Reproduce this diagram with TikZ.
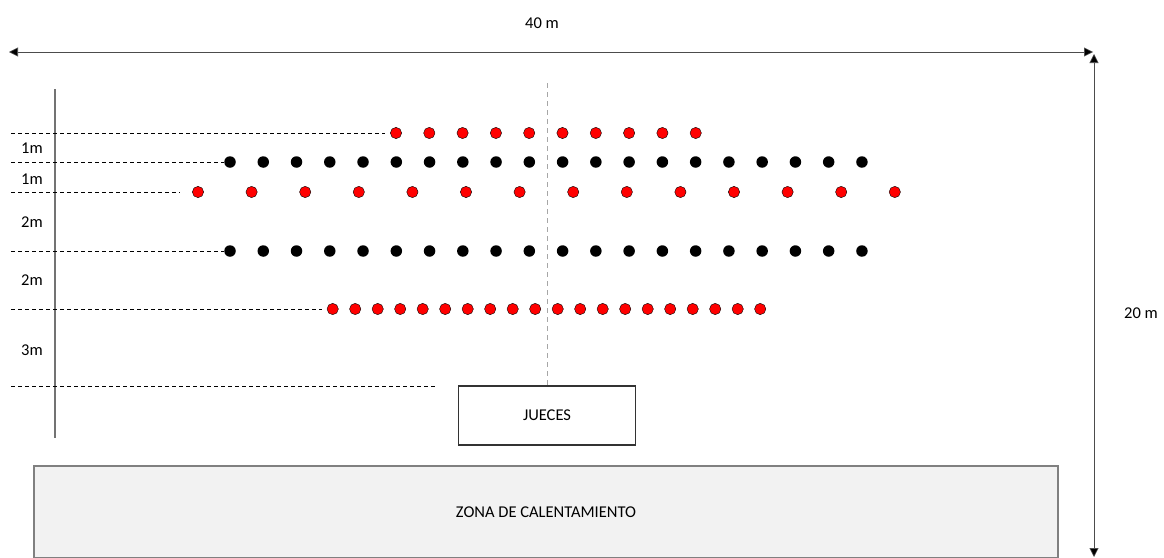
\documentclass[tikz,border=0pt]{standalone}
\usepackage{fontspec}
\setmainfont{Carlito}
\usepackage{tikz}
\usetikzlibrary{arrows.meta}

\begin{document}
\begin{tikzpicture}[x=1pt, y=-1pt, semithick,
    font=\fontsize{16.5}{19}\selectfont,
    reddot/.style={draw, circle, fill=red, minimum size=11.3pt, inner sep=0pt, thin},
    blackdot/.style={circle, fill=black, minimum size=11.5pt, inner sep=0pt},
    guide/.style={thin, dash pattern=on 4pt off 3pt},
    dimarrow/.style={black!70, {Triangle[length=9pt,width=9pt,fill=black]}-{Triangle[length=9pt,width=9pt,fill=black]}}]
  \useasboundingbox (0,0) rectangle (1164,557);
  % medidas
  \coordinate (wl) at (9,52);
  \coordinate (wr) at (1093,52);
  \coordinate (ht) at (1094,54);
  \coordinate (hb) at (1094,557);
  \path [dimarrow] (wl) edge (wr);
  \path [dimarrow] (ht) edge (hb);
  \node (ancho) at (542,23) {40 m};
  \node (alto) at (1141,313) {20 m};
  % eje izquierdo
  \coordinate (ea) at (55,89);
  \coordinate (eb) at (55,438);
  \draw [black!55, line width=1.5pt] (ea) -- (eb);
  % filas
  \foreach \i in {0,...,9}  \node [reddot]   (ra\i) at (396+33.3*\i, 133) {};
  \foreach \i in {0,...,19} \node [blackdot] (na\i) at (230+33.26*\i, 162) {};
  \foreach \i in {0,...,13} \node [reddot]   (rb\i) at (198+53.6*\i, 192) {};
  \foreach \i in {0,...,19} \node [blackdot] (nb\i) at (230+33.26*\i, 251) {};
  \foreach \i in {0,...,19} \node [reddot]   (rc\i) at (332.7+22.5*\i, 309) {};
  % lineas guia
  \coordinate (g1) at (11,133);
  \coordinate (g2) at (11,162);
  \coordinate (g3) at (11,192);
  \coordinate (g4) at (11,251);
  \coordinate (g5) at (11,309);
  \coordinate (g6) at (11,386);
  \coordinate (g7) at (435,386);
  \draw [guide, shorten >=5pt] (g1) -- (ra0.west);
  \draw [guide] (g2) -- (na0.west);
  \draw [guide, shorten >=12pt] (g3) -- (rb0.west);
  \draw [guide] (g4) -- (nb0.west);
  \draw [guide, shorten >=5pt] (g5) -- (rc0.west);
  \draw [guide] (g6) -- (g7);
  \node (d1) at (32,148) {1m};
  \node (d2) at (32,179) {1m};
  \node (d3) at (32,222) {2m};
  \node (d4) at (32,280) {2m};
  \node (d5) at (32,350) {3m};
  % jueces y calentamiento
  \node [draw=black!80, line width=1.2pt, minimum width=177pt, minimum height=59pt] (jueces) at (547,415.5) {JUECES};
  \coordinate (c) at (547,83);
  \draw [black!35, thin, dash pattern=on 5pt off 4pt] (c) -- (jueces.north);
  \node [draw=black!50, fill=black!5, line width=1.2pt, minimum width=1024pt, minimum height=92pt] (zona) at (546,512) {ZONA DE CALENTAMIENTO};
\end{tikzpicture}
\end{document}
